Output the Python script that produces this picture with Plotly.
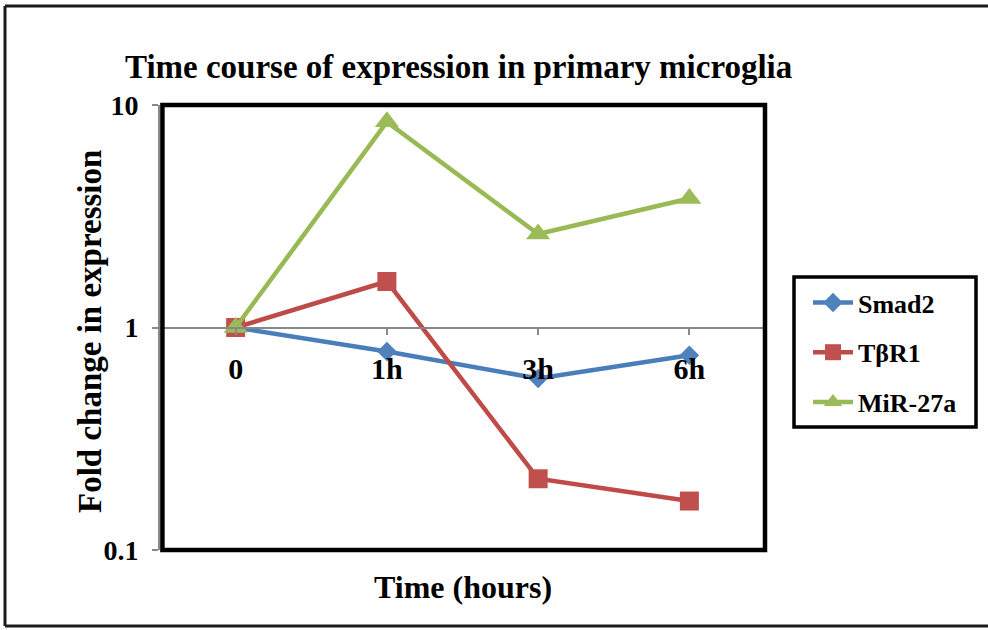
import plotly.graph_objects as go

# Time points and fold-change values per gene
time_points = ["0", "1h", "3h", "6h"]
smad2 = [1.0, 0.78, 0.59, 0.75]
tbr1 = [1.0, 1.61, 0.209, 0.166]
mir27a = [1.0, 8.4, 2.63, 3.8]

y_tick_vals = [0.1, 1, 10]
y_tick_text = ["0.1", "1", "10"]

FONT = "Liberation Serif"

W, H = 988, 630
ML, MR, MT, MB = 160, 223, 105, 80
PW, PH = W - ML - MR, H - MT - MB


def px_x(x):
    return (x - ML) / PW


def px_y(y):
    return (H - MB - y) / PH


series = [
    ("Smad2", smad2, "#4A7EBB", "#4F81BD", "diamond", 15),
    ("TβR1", tbr1, "#BE4B48", "#C0504D", "square", 19),
    ("MiR-27a", mir27a, "#98B954", "#9BBB59", "triangle-up", 21),
]

fig = go.Figure()
for name, vals, lc, mc, sym, sz in series:
    fig.add_trace(go.Scatter(
        x=time_points, y=vals, name=name, mode="lines+markers",
        legendgroup=name,
        line=dict(color=lc, width=4.5),
        marker=dict(symbol=sym, size=sz, color=mc, line=dict(width=0)),
    ))

fig.update_layout(
    width=W, height=H,
    margin=dict(l=ML, r=MR, t=MT, b=MB),
    paper_bgcolor="white", plot_bgcolor="white",
    font=dict(family=FONT, color="black"),
    showlegend=True,
    legend=dict(
        x=px_x(808), y=px_y(279), xanchor="left", yanchor="top",
        borderwidth=0, bgcolor="rgba(0,0,0,0)",
        font=dict(family=FONT, size=26, color="black", weight="bold"),
        tracegroupgap=13, traceorder="grouped",
        itemwidth=40,
    ),
    xaxis=dict(
        type="category", range=[-0.5, 3.5],
        anchor="free", position=0.5,
        showline=True, linecolor="#888888", linewidth=2,
        ticks="outside", ticklen=6, tickcolor="#888888", tickwidth=2,
        tickfont=dict(family=FONT, size=30, color="black", weight="bold"),
        ticklabelstandoff=8,
        showgrid=False, zeroline=False,
    ),
    yaxis=dict(
        type="log", range=[-1, 1],
        tickvals=y_tick_vals, ticktext=y_tick_text,
        showline=True, linecolor="#888888", linewidth=2,
        ticks="outside", ticklen=6, tickcolor="#888888", tickwidth=2,
        tickfont=dict(family=FONT, size=28, color="black", weight="bold"),
        ticklabelstandoff=8,
        showgrid=False, zeroline=False,
    ),
    shapes=[
        # outer chart border (open on the right side)
        dict(type="line", xref="paper", yref="paper",
             x0=px_x(5), x1=px_x(5), y0=px_y(626), y1=px_y(6),
             line=dict(color="#1a1a1a", width=3), layer="below"),
        dict(type="line", xref="paper", yref="paper",
             x0=px_x(5), x1=px_x(988), y0=px_y(6), y1=px_y(6),
             line=dict(color="#1a1a1a", width=3), layer="below"),
        dict(type="line", xref="paper", yref="paper",
             x0=px_x(5), x1=px_x(988), y0=px_y(626), y1=px_y(626),
             line=dict(color="#1a1a1a", width=3), layer="below"),
        # plot area frame
        dict(type="rect", xref="x domain", yref="y domain",
             x0=0.004, x1=1, y0=0, y1=1,
             line=dict(color="black", width=4.5), layer="above"),
        # legend box
        dict(type="rect", xref="paper", yref="paper",
             x0=px_x(794), x1=px_x(976), y0=px_y(427), y1=px_y(277),
             line=dict(color="black", width=3.5), layer="below"),
    ],
    annotations=[
        dict(text="Time course of expression in primary microglia",
             xref="paper", yref="paper", x=px_x(458), y=px_y(67),
             xanchor="center", yanchor="middle", showarrow=False,
             font=dict(family=FONT, size=33, color="black", weight="bold")),
        dict(text="Time (hours)",
             xref="paper", yref="paper", x=px_x(463), y=px_y(587),
             xanchor="center", yanchor="middle", showarrow=False,
             font=dict(family=FONT, size=32, color="black", weight="bold")),
        dict(text="Fold change in expression", textangle=-90,
             xref="paper", yref="paper", x=px_x(90), y=px_y(332),
             xanchor="center", yanchor="middle", showarrow=False,
             font=dict(family=FONT, size=33, color="black", weight="bold")),
    ],
)

fig.write_html("out.html")
